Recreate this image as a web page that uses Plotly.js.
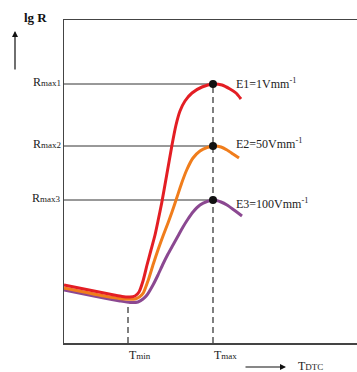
<!DOCTYPE html>
<html>
<head>
<meta charset="utf-8">
<script src="https://cdn.plot.ly/plotly-3.0.1.min.js"></script>
<style>html,body{margin:0;padding:0;background:#fff;}#chart{width:357px;height:372px;}</style>
</head>
<body>
<div id="chart"></div>
<script>
// Temperature axis (arbitrary units) and lg R (arbitrary units)
const T_E1 = [0,10,20,30,40,50,58,66,71,75,79,83,87,91,94,97.7,102.7,108,112,116,121,128,138,149,158,166,172,177];
const lgR_E1 = [58,56,54,52,50,48,46.5,46,47,51,62,78,93,108,122,140,168,198,218,232,242,250,256,259,258,254,250,244];
const T_E2 = [0,20,40,60,71,76,79.3,84.3,89.3,94.3,99,104,108,112.7,117.7,122.7,129,136,143,150,157,163,169,175];
const lgR_E2 = [55,51,47,44,44,46.5,50,63,79,94,107,120,131,145,160,173,185,192,195.5,197,196,193,189,185];
const T_E3 = [0,20,40,56,66,74,79,83,89,94,99,104,109,114,119,124,129,136,143,150,157,163,170,178];
const lgR_E3 = [53,49,45,42,40.5,41,44,48,58,68,79,89,98,107,116,124,131,138,141.5,143,141,138,133,127];

const seriesNames = ["E1=1Vmm<sup>-1</sup>", "E2=50Vmm<sup>-1</sup>", "E3=100Vmm<sup>-1</sup>"];
const rmaxLabels = ["R<span style='font-size:9px'>max1</span>", "R<span style='font-size:9px'>max2</span>", "R<span style='font-size:9px'>max3</span>"];
const Rmax = [259, 197, 143];
const Tmin = 64;
const Tmax = 149;
const TminBottom = 41;

const XR = [0, 293], YR = [0, 323];
const px = v => (v - XR[0]) / (XR[1] - XR[0]);
const py = v => (v - YR[0]) / (YR[1] - YR[0]);

const colors = ["#e31e24", "#f07d1c", "#8b4891"];
const serif = "Liberation Serif, Times New Roman, serif";

const traces = [];
Rmax.forEach(r => traces.push({x:[0, Tmax], y:[r, r], mode:'lines', line:{color:'#333', width:1}, hoverinfo:'skip', showlegend:false}));
traces.push({x:[Tmin, Tmin], y:[0, TminBottom], mode:'lines', line:{color:'#555', width:1.5, dash:'6px,4px'}, hoverinfo:'skip', showlegend:false});
traces.push({x:[Tmax, Tmax], y:[0, Rmax[0]], mode:'lines', line:{color:'#555', width:1.5, dash:'6px,4px'}, hoverinfo:'skip', showlegend:false});
const Ts = [T_E1, T_E2, T_E3], Rs = [lgR_E1, lgR_E2, lgR_E3];
[2,1,0].forEach(i => traces.push({x:Ts[i], y:Rs[i], mode:'lines', line:{color:colors[i], width:3, shape:'spline', smoothing:0.6}, showlegend:false, hoverinfo:'skip'}));
traces.push({x:[Tmax,Tmax,Tmax], y:Rmax, mode:'markers', marker:{color:'#111', size:8}, showlegend:false, hoverinfo:'skip'});

const ann = [];
const P = (x, y, text, xa, size, extra) => Object.assign({x:px(x), y:py(y), xref:'paper', yref:'paper', text:text, showarrow:false, xanchor:xa, yanchor:'middle', font:{family:serif, size:size, color:'#222'}}, extra || {});
Rmax.forEach((r,i) => {
  ann.push(P(-1, r+2, rmaxLabels[i], 'right', 12));
  ann.push(P(Tmax+21, r+(i===2? -3 : (i===1?3:0)), seriesNames[i], 'left', 12));
});
ann.push(P(Tmin-1, -12, "T<span style='font-size:9px'>min</span>", 'left', 12));
ann.push(P(Tmax-1, -12, "T<span style='font-size:9px'>max</span>", 'left', 12));
ann.push(P(232, -23, "T<span style='font-size:9px'>DTC</span>", 'left', 12));
ann.push(P(-29, 325, "<b>lg R</b>", 'center', 13, {font:{family:serif, size:13, color:'#111'}}));
// arrows
ann.push({x:px(-49), y:py(312), ax:px(-49), ay:py(272), xref:'paper', yref:'paper', axref:'paper', ayref:'paper', text:'', showarrow:true, arrowhead:2, arrowsize:1, arrowwidth:1.2, arrowcolor:'#111'});
ann.push({x:px(222), y:py(-24), ax:px(180), ay:py(-24), xref:'paper', yref:'paper', axref:'paper', ayref:'paper', text:'', showarrow:true, arrowhead:2, arrowsize:1, arrowwidth:1.2, arrowcolor:'#111'});

const layout = {
  width:357, height:372,
  margin:{l:64, r:0, t:20, b:29, pad:0},
  paper_bgcolor:'#fff', plot_bgcolor:'#fff',
  xaxis:{range:XR, showline:true, mirror:true, linecolor:'#444', linewidth:1.5, showgrid:false, zeroline:false, showticklabels:false, ticks:''},
  yaxis:{range:YR, showline:true, mirror:false, linecolor:'#444', linewidth:1.5, showgrid:false, zeroline:false, showticklabels:false, ticks:''},
  annotations:ann,
  showlegend:false
};
Plotly.newPlot('chart', traces, layout, {displayModeBar:false, staticPlot:true});
</script>
</body>
</html>
